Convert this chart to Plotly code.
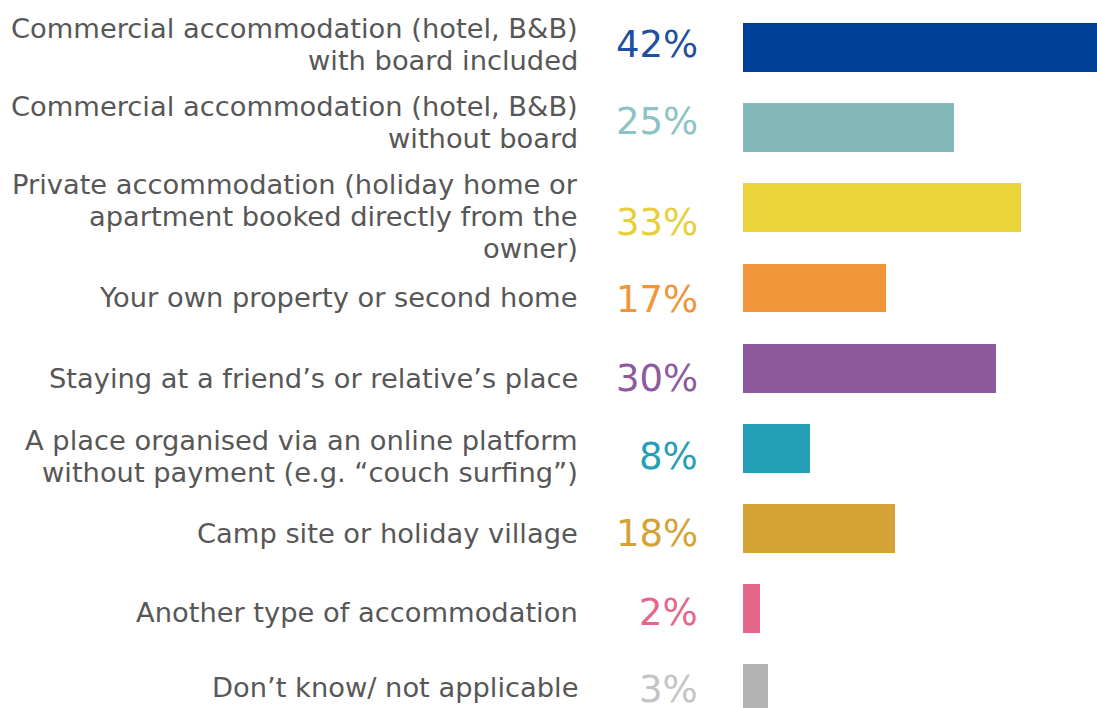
import plotly.graph_objects as go

categories = [
    "Commercial accommodation (hotel, B&B)<br>with board included",
    "Commercial accommodation (hotel, B&B)<br>without board",
    "Private accommodation (holiday home or<br>apartment booked directly from the<br>owner)",
    "Your own property or second home",
    "Staying at a friend’s or relative’s place",
    "A place organised via an online platform<br>without payment (e.g. “couch surfing”)",
    "Camp site or holiday village",
    "Another type of accommodation",
    "Don’t know/ not applicable",
]
values = [42, 25, 33, 17, 30, 8, 18, 2, 3]
bar_colors = ["#003f98", "#83b9b9", "#ebd43b", "#f0953a", "#8e5a9d",
              "#24a0b6", "#d4a235", "#e6668b", "#b3b3b3"]
pct_colors = ["#1f4f9f", "#8cc3c3", "#e8cf3a", "#f0953a", "#8e5a9d",
              "#24a0b6", "#d4a235", "#e6668b", "#c4c4c4"]

# layout constants (pixels)
W, H = 1097, 708
ROW = 80.15                 # pixel distance between bar rows
TOP = 47.5                  # pixel centre of first bar row
LINE = 32                   # label line spacing
label_dy = [-3.5, -5.5, 8.5, 10, 10, 8, 5, 3.5, -1]
pct_dy = [-3, -6.5, 14.5, 12, 10, 8.5, 5, 3.5, 1]

positions = list(range(len(categories)))

fig = go.Figure()
fig.add_trace(go.Bar(
    x=values, y=positions, orientation="h",
    marker=dict(color=bar_colors, line=dict(width=0)),
    width=0.61, hoverinfo="skip",
))

annotations = []
for i, (cat, v) in enumerate(zip(categories, values)):
    lines = cat.split("<br>")
    n = len(lines)
    for k, line in enumerate(lines):
        off = label_dy[i] + (k - (n - 1) / 2) * LINE
        annotations.append(dict(
            x=580 / W, xref="paper", y=i + off / ROW, yref="y",
            xanchor="right", yanchor="middle", align="right",
            text=line, showarrow=False,
            font=dict(family="DejaVu Sans", size=27.3, color="#575757"),
        ))
    annotations.append(dict(
        x=700 / W, xref="paper", y=i + pct_dy[i] / ROW, yref="y",
        xanchor="right", yanchor="middle", align="right",
        text=f"{v}%", showarrow=False,
        font=dict(family="DejaVu Sans", size=37, color=pct_colors[i]),
    ))

fig.update_layout(
    width=W, height=H,
    margin=dict(l=0, r=0, t=0, b=0),
    paper_bgcolor="white", plot_bgcolor="white",
    showlegend=False,
    xaxis=dict(domain=[743 / W, 1], range=[0, 42], visible=False, fixedrange=True),
    yaxis=dict(range=[(H - TOP) / ROW, -TOP / ROW], visible=False, fixedrange=True),
    annotations=annotations,
    bargap=0,
)

fig.write_html(
    "out.html",
    config={"displayModeBar": False, "staticPlot": True},
    post_script="document.body.style.margin='0';document.body.style.overflow='hidden';",
)
